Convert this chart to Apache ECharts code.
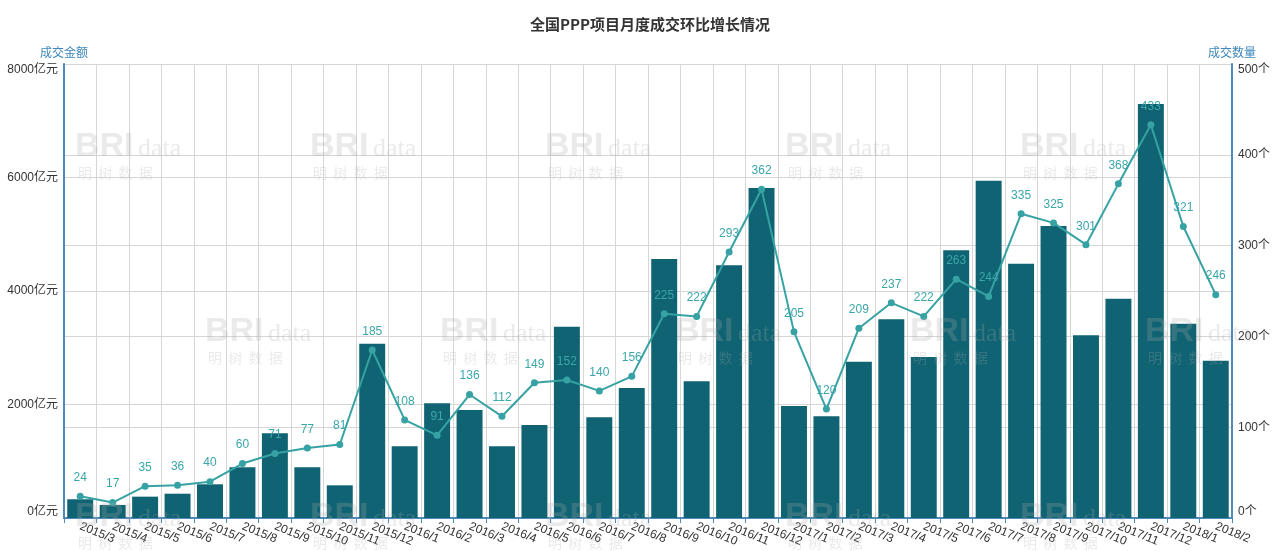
<!DOCTYPE html>
<html>
<head>
<meta charset="utf-8">
<script src="https://cdn.jsdelivr.net/npm/echarts@6/dist/echarts.min.js"></script>
<style>
html,body{margin:0;padding:0;background:#fff;}
#main{width:1273px;height:551px;}
</style>
</head>
<body>
<div id="main"></div>
<script>
const categories = ['2015/3','2015/4','2015/5','2015/6','2015/7','2015/8','2015/9','2015/10','2015/11','2015/12',
  '2016/1','2016/2','2016/3','2016/4','2016/5','2016/6','2016/7','2016/8','2016/9','2016/10','2016/11','2016/12',
  '2017/1','2017/2','2017/3','2017/4','2017/5','2017/6','2017/7','2017/8','2017/9','2017/10','2017/11','2017/12',
  '2018/1','2018/2'];
const amountValues = [330,230,376,428,594,893,1492,893,576,3072,
  1263,2021,1903,1263,1639,3371,1774,2291,4564,2409,4452,5815,
  1974,1791,2754,3501,2837,4717,5944,4481,5145,3219,3864,7295,
  3424,2772];
const countValues = [24,17,35,36,40,60,71,77,81,185,
  108,91,136,112,149,152,140,156,225,222,293,362,
  205,120,209,237,222,263,244,335,325,301,368,433,
  321,246];
const leftTicks = {min:0, max:8000, interval:2000, unit:'亿元'};
const rightTicks = {min:0, max:500, interval:100, unit:'个'};

const chart = echarts.init(document.getElementById('main'), null, {renderer:'canvas'});

const wmPositions = [[120,150],[355,150],[590,150],[830,150],[1065,150],
  [250,335],[485,335],[720,335],[955,335],[1190,335],
  [120,520],[355,520],[590,520],[830,520],[1065,520]];
const graphics = [];
wmPositions.forEach(p => {
  graphics.push({type:'text', left:p[0]-45, top:p[1]-20, z:100, silent:true,
    style:{text:'BRI', font:'bold 34px Arial', fill:'rgba(170,170,170,0.25)'}});
  graphics.push({type:'text', left:p[0]+18, top:p[1]-14, z:100, silent:true,
    style:{text:'data', font:'26px serif', fill:'rgba(170,170,170,0.25)'}});
  graphics.push({type:'text', left:p[0]-42, top:p[1]+16, z:100, silent:true,
    style:{text:'明  树  数  据', font:'14px "Noto Sans CJK SC"', fill:'rgba(170,170,170,0.25)'}});
});

const axisBlue = '#4d8ab8';
chart.setOption({
  backgroundColor:'#fff',
  textStyle:{fontFamily:'Arial, "Noto Sans CJK SC", sans-serif'},
  title:{
    text:'全国PPP项目月度成交环比增长情况',
    left:645, top:12, textAlign:'center',
    textStyle:{fontSize:15, fontWeight:'bold', color:'#333', fontFamily:'"Noto Sans CJK SC", sans-serif'}
  },
  graphic: graphics,
  grid:{left:64, right:38, top:64, bottom:33, show:false},
  xAxis:{
    type:'category', data:categories, boundaryGap:true,
    axisLine:{lineStyle:{color:axisBlue, width:2}},
    axisTick:{show:true, lineStyle:{color:axisBlue}},
    axisLabel:{rotate:-22, color:'#333', fontSize:12, interval:0, margin:8},
    splitLine:{show:true, lineStyle:{color:'#d6d6d6', width:1}}
  },
  yAxis:[{
    type:'value', name:'成交金额', nameLocation:'end', nameGap:6,
    nameTextStyle:{color:'#3d86b8', fontSize:12, fontFamily:'"Noto Sans CJK SC", sans-serif'},
    min:leftTicks.min, max:leftTicks.max, interval:leftTicks.interval,
    axisLine:{show:true, lineStyle:{color:axisBlue, width:2}},
    axisTick:{show:false},
    axisLabel:{formatter:v => v + leftTicks.unit, color:'#333', fontSize:12, margin:6,
      verticalAlignMinLabel:'bottom', verticalAlignMaxLabel:'top'},
    splitLine:{show:true, lineStyle:{color:'#d6d6d6'}}
  },{
    type:'value', name:'成交数量', nameLocation:'end', nameGap:6,
    nameTextStyle:{color:'#3d86b8', fontSize:12, fontFamily:'"Noto Sans CJK SC", sans-serif'},
    min:rightTicks.min, max:rightTicks.max, interval:rightTicks.interval,
    axisLine:{show:true, lineStyle:{color:axisBlue, width:2}},
    axisTick:{show:false},
    axisLabel:{formatter:v => v + rightTicks.unit, color:'#333', fontSize:12, margin:6,
      verticalAlignMinLabel:'bottom', verticalAlignMaxLabel:'top'},
    splitLine:{show:true, lineStyle:{color:'#d6d6d6'}}
  }],
  series:[{
    name:'成交金额', type:'bar', yAxisIndex:0, data:amountValues,
    barCategoryGap:'20%',
    itemStyle:{color:'#0f6372'}
  },{
    name:'成交数量', type:'line', yAxisIndex:1, data:countValues,
    symbol:'circle', symbolSize:7,
    lineStyle:{color:'#36a2a4', width:2},
    itemStyle:{color:'#36a2a4'},
    label:{show:true, position:'top', distance:9, color:'#3aa6aa', fontSize:12}
  }]
});
</script>
</body>
</html>
